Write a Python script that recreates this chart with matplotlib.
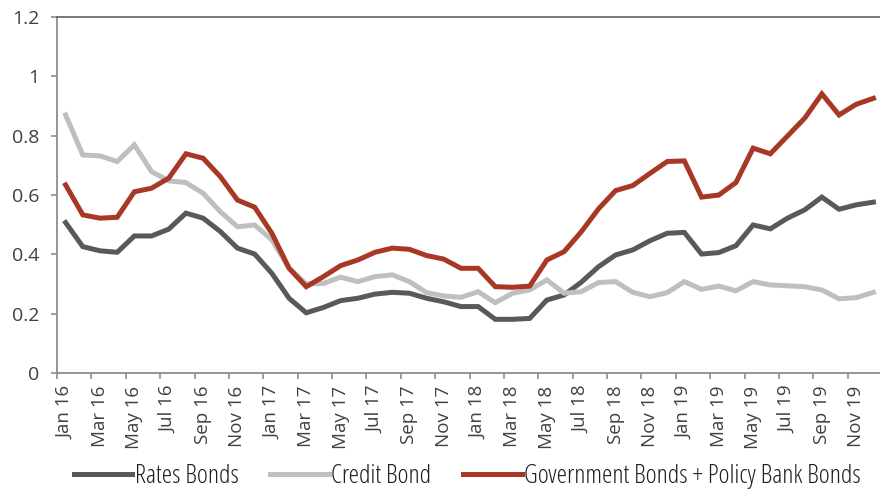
import matplotlib.pyplot as plt
import numpy as np
from matplotlib.font_manager import FontProperties

plt.rcParams['font.family'] = ['Open Sans', 'DejaVu Sans']

# monthly series, Jan 2016 - Dec 2019
months = ['Jan', 'Feb', 'Mar', 'Apr', 'May', 'Jun',
          'Jul', 'Aug', 'Sep', 'Oct', 'Nov', 'Dec']
years = ['16', '17', '18', '19']
dates = ['%s %s' % (m, y) for y in years for m in months]

rates_bonds = [0.507, 0.426, 0.412, 0.407, 0.462, 0.462, 0.485, 0.539, 0.522, 0.477, 0.421, 0.401,
               0.336, 0.252, 0.203, 0.221, 0.244, 0.252, 0.266, 0.272, 0.269, 0.252, 0.240, 0.224,
               0.224, 0.181, 0.181, 0.184, 0.246, 0.263, 0.306, 0.358, 0.398, 0.415, 0.446, 0.471,
               0.474, 0.401, 0.406, 0.429, 0.499, 0.486, 0.522, 0.550, 0.593, 0.552, 0.567, 0.576]

credit_bond = [0.870, 0.735, 0.732, 0.713, 0.769, 0.679, 0.648, 0.642, 0.606, 0.544, 0.493, 0.499,
               0.449, 0.354, 0.300, 0.302, 0.323, 0.308, 0.325, 0.331, 0.308, 0.271, 0.260, 0.255,
               0.274, 0.237, 0.269, 0.280, 0.314, 0.269, 0.274, 0.305, 0.308, 0.272, 0.257, 0.271,
               0.308, 0.282, 0.293, 0.277, 0.308, 0.297, 0.294, 0.291, 0.280, 0.250, 0.254, 0.272]

gov_policy_bonds = [0.634, 0.533, 0.522, 0.525, 0.611, 0.623, 0.657, 0.739, 0.724, 0.662, 0.583, 0.559,
                    0.471, 0.353, 0.291, 0.325, 0.362, 0.381, 0.407, 0.421, 0.417, 0.396, 0.384, 0.353,
                    0.353, 0.291, 0.289, 0.293, 0.381, 0.409, 0.476, 0.553, 0.615, 0.632, 0.673, 0.713,
                    0.715, 0.593, 0.600, 0.642, 0.758, 0.739, 0.799, 0.859, 0.941, 0.870, 0.906, 0.926]

series = [
    ('Rates Bonds', rates_bonds, '#595959'),
    ('Credit Bond', credit_bond, '#bfbfbf'),
    ('Government Bonds + Policy Bank Bonds', gov_policy_bonds, '#a83826'),
]

fig = plt.figure(figsize=(8.8, 4.93), dpi=100)
ax = fig.add_axes([0.0648, 0.2434, 0.9375, 0.722])

x = np.arange(len(dates))
for name, vals, col in series:
    ax.plot(x, vals, color=col, lw=3.6, label=name, solid_joinstyle='miter')

ax.set_xlim(-0.5, len(dates) - 0.5)
ax.set_ylim(0, 1.2)
ax.set_yticks(np.arange(0, 1.21, 0.2))
ax.set_yticklabels(['0', '0.2', '0.4', '0.6', '0.8', '1', '1.2'])

ax.set_xticks(x[::2])
ax.set_xticklabels(dates[::2], rotation=90, va='top', ha='center')
ax.set_xticks(np.arange(-0.5, len(dates), 2), minor=True)

ax.tick_params(axis='x', which='major', length=0, pad=9, labelsize=13.5, labelcolor='#404040')
ax.tick_params(axis='x', which='minor', length=4.5, width=1.2, color='#8c8c8c')
ax.tick_params(axis='y', length=4.5, width=1.2, color='#8c8c8c', pad=8,
               labelsize=14, labelcolor='#404040')

for side in ['left', 'bottom']:
    ax.spines[side].set_color('#8c8c8c')
    ax.spines[side].set_linewidth(1.3)
ax.spines['right'].set_visible(False)
ax.spines['top'].set_color('#6b5e55')
ax.spines['top'].set_linewidth(1.2)

leg_font = FontProperties(family=['Open Sans', 'DejaVu Sans'], stretch='condensed',
                          weight='normal', size=18.8)
leg = fig.legend(loc='center', bbox_to_anchor=(0.531, 0.034), ncol=3, frameon=False,
                 handlelength=2.25, handletextpad=0.1, columnspacing=1.2, prop=leg_font)
for t in leg.get_texts():
    t.set_color('#1f1f1f')

fig.savefig('out.png', dpi=100)
